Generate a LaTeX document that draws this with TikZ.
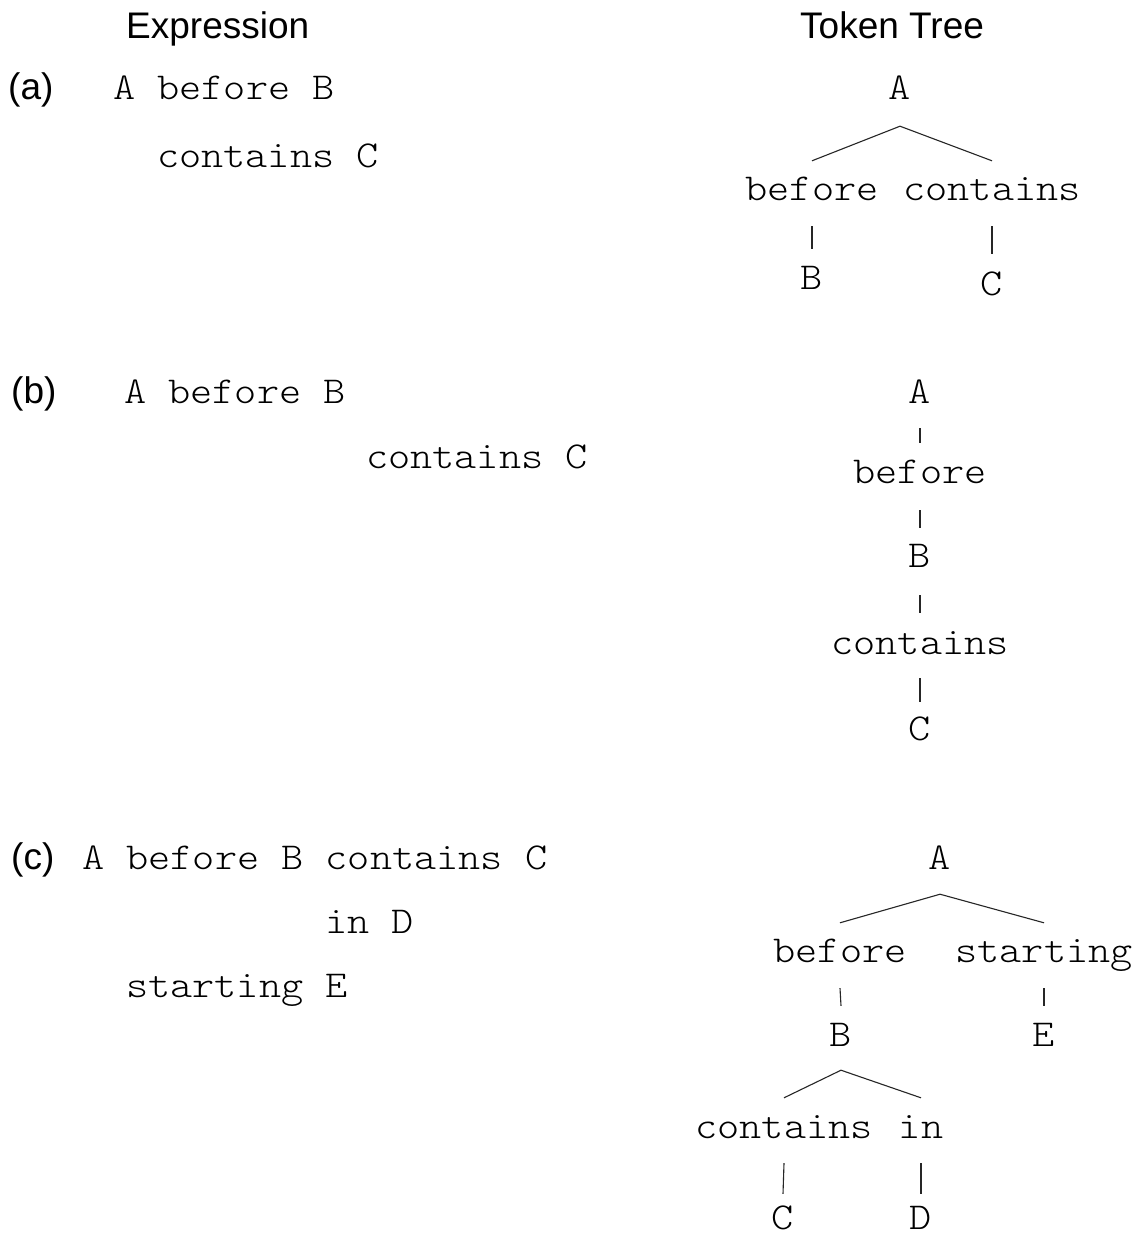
\documentclass[tikz,border=0pt]{standalone}
\usepackage{fontspec}
\setmainfont{Liberation Sans}
\newfontfamily\codefont[FakeStretch=1.11]{lmmonolt10-regular.otf}
\begin{document}
\begin{tikzpicture}[x=1pt,y=-1pt,
  heading/.style={font=\fontsize{37}{44}\selectfont, anchor=base west, inner sep=0pt},
  partlabel/.style={font=\fontsize{37}{44}\selectfont, anchor=base west, inner sep=0pt},
  code/.style={font=\codefont\fontsize{38}{44}\selectfont, anchor=base west, inner sep=0pt},
  tok/.style={font=\codefont\fontsize{38}{44}\selectfont, anchor=base, inner sep=0pt,
              text height=21pt, text depth=0pt},
  branch/.style={line width=1.1pt, draw=black!85}]
\fill[white] (0,0) rectangle (1136,1236);
\useasboundingbox (0,0) rectangle (1136,1236);

% column headings
\node[heading] (hexpr) at (126,39) {Expression};
\node[heading] (htree) at (800,39) {Token Tree};

% ---------- (a) ----------
\node[partlabel] (la) at (8,100) {(a)};
\node[code] (ea1) at (113,100) {A before B};
\node[code] (ea2) at (157,167) {contains C};

\node[tok] (aA)   at (900,100) {A};
\node[tok] (aBef) at (812,200) {before};
\node[tok] (aCon) at (992,200) {contains};
\node[tok] (aB)   at (812,289) {B};
\node[tok] (aC)   at (992,295) {C};
\draw[branch] ([yshift=-26pt]aA.south) -- ([yshift=18pt]aBef.north);
\draw[branch] ([yshift=-26pt]aA.south) -- ([yshift=18pt]aCon.north);
\draw[branch] ([yshift=-26pt]aBef.south) -- ([yshift=19pt]aB.north);
\draw[branch] ([yshift=-26pt]aCon.south) -- ([yshift=20pt]aC.north);

% ---------- (b) ----------
\node[partlabel] (lb) at (11,403) {(b)};
\node[code] (eb1) at (124,403) {A before B};
\node[code] (eb2) at (366,468) {contains C};

\node[tok] (bA)   at (920,403) {A};
\node[tok] (bBef) at (920,483) {before};
\node[tok] (bB)   at (920,567) {B};
\node[tok] (bCon) at (920,654) {contains};
\node[tok] (bC)   at (920,740) {C};
\draw[branch] ([yshift=-25pt]bA.south) -- ([yshift=19pt]bBef.north);
\draw[branch] ([yshift=-27pt]bBef.south) -- ([yshift=18pt]bB.north);
\draw[branch] ([yshift=-28pt]bB.south) -- ([yshift=20pt]bCon.north);
\draw[branch] ([yshift=-24pt]bCon.south) -- ([yshift=17pt]bC.north);

% ---------- (c) ----------
\node[partlabel] (lc) at (11,869) {(c)};
\node[code] (ec1) at (82,869) {A before B contains C};
\node[code] (ec2) at (325,933) {in D};
\node[code] (ec3) at (126,997) {starting E};

\node[tok] (cA)   at (940,869)  {A};
\node[tok] (cBef) at (840,962)  {before};
\node[tok] (cSta) at (1044,962) {starting};
\node[tok] (cB)   at (841,1046) {B};
\node[tok] (cE)   at (1044,1046) {E};
\node[tok] (cCon) at (784,1138) {contains};
\node[tok] (cIn)  at (921,1138) {in};
\node[tok] (cC)   at (783,1229) {C};
\node[tok] (cD)   at (921,1229) {D};
\draw[branch] ([yshift=-25pt]cA.south) -- ([yshift=18pt]cBef.north);
\draw[branch] ([yshift=-25pt]cA.south) -- ([yshift=18pt]cSta.north);
\draw[branch] ([yshift=-26pt]cBef.south) -- ([yshift=19pt]cB.north);
\draw[branch] ([yshift=-26pt]cSta.south) -- ([yshift=19pt]cE.north);
\draw[branch] ([yshift=-24pt]cB.south) -- ([yshift=19pt]cCon.north);
\draw[branch] ([yshift=-24pt]cB.south) -- ([yshift=19pt]cIn.north);
\draw[branch] ([yshift=-25pt]cCon.south) -- ([yshift=14pt]cC.north);
\draw[branch] ([yshift=-25pt]cIn.south) -- ([yshift=14pt]cD.north);
\end{tikzpicture}
\end{document}
